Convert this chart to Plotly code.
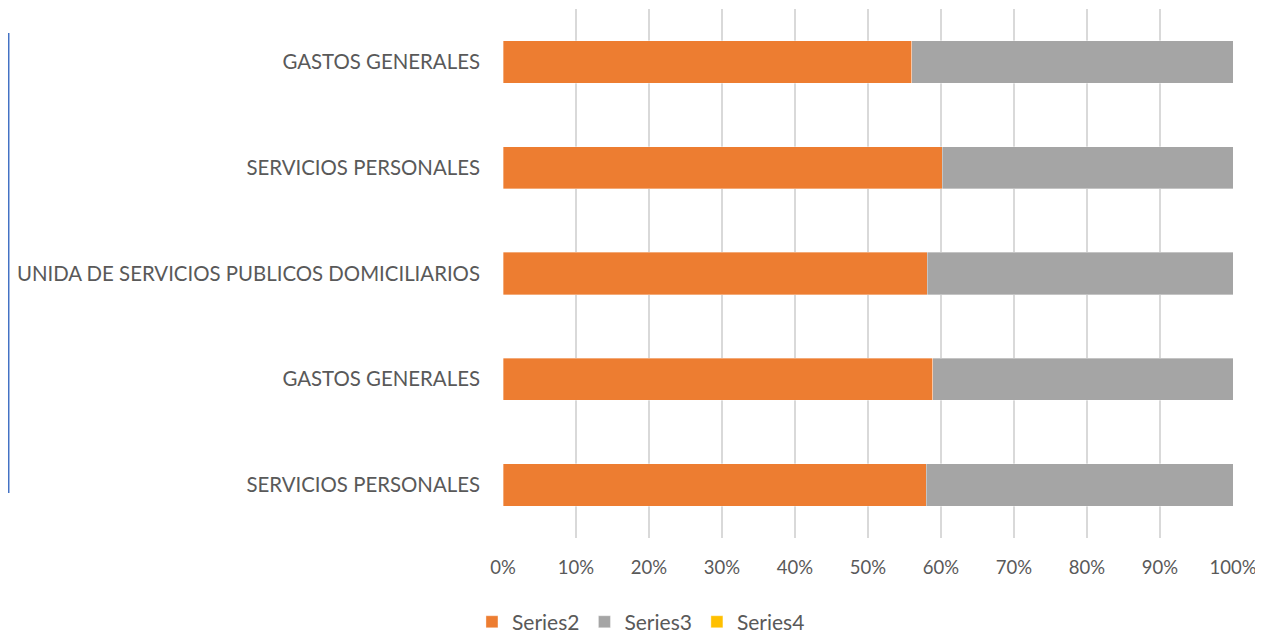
import plotly.graph_objects as go

categories = ["SERVICIOS PERSONALES", "GASTOS GENERALES",
              "UNIDA DE SERVICIOS PUBLICOS DOMICILIARIOS",
              "SERVICIOS PERSONALES", "GASTOS GENERALES"]
series2 = [58.0, 58.9, 58.1, 60.2, 56.0]
series3 = [42.0, 41.1, 41.9, 39.8, 44.0]
series4 = [0, 0, 0, 0, 0]
x_ticks = [0, 10, 20, 30, 40, 50, 60, 70, 80, 90, 100]
x_labels = ["0%", "10%", "20%", "30%", "40%", "50%", "60%", "70%", "80%", "90%", "100%"]

pos = list(range(len(categories)))
font = "Lato, 'Open Sans', sans-serif"

fig = go.Figure()
for name, vals, col in [("Series2", series2, "#ED7D31"),
                        ("Series3", series3, "#A5A5A5"),
                        ("Series4", series4, "#FFC000")]:
    fig.add_trace(go.Bar(y=pos, x=vals, name=name, orientation="h",
                         marker=dict(color=col, line=dict(color="rgba(255,255,255,0.5)", width=0.7))))

L, T, PW, PH = 495, 1, 730, 529
fig.update_layout(
    barmode="stack", bargap=0.6,
    width=1255, height=625,
    margin=dict(l=L, r=1255 - L - PW, t=T, b=625 - T - PH, autoexpand=False),
    paper_bgcolor="white", plot_bgcolor="white",
    font=dict(family=font, size=20, color="#595959"),
    legend=dict(orientation="h", x=0.189, xanchor="center", y=-0.159, yanchor="middle",
                font=dict(size=21, color="#595959"), traceorder="normal",
                itemwidth=30, tracegroupgap=0),
    xaxis=dict(range=[0, 100], tickvals=x_ticks, ticktext=x_labels, showgrid=True,
               gridcolor="#D9D9D9", gridwidth=1.5, zeroline=False, showline=False,
               ticks="", ticklabelstandoff=16, fixedrange=True, automargin=False,
               tickfont=dict(size=18.5)),
    yaxis=dict(tickvals=pos, ticktext=categories, range=[-0.5, 4.5], showgrid=False,
               zeroline=False, showline=False, ticks="", ticklabelstandoff=22,
               automargin=False, tickfont=dict(size=20.4)),
    shapes=[dict(type="line", xref="paper", yref="paper", x0=-L / PW + 0.001, x1=-L / PW + 0.001,
                 y0=(PH - 493 + 9) / PH, y1=(PH - 33 + 9) / PH,
                 line=dict(color="#4472C4", width=1.5))],
)
fig.write_html("out.html")
